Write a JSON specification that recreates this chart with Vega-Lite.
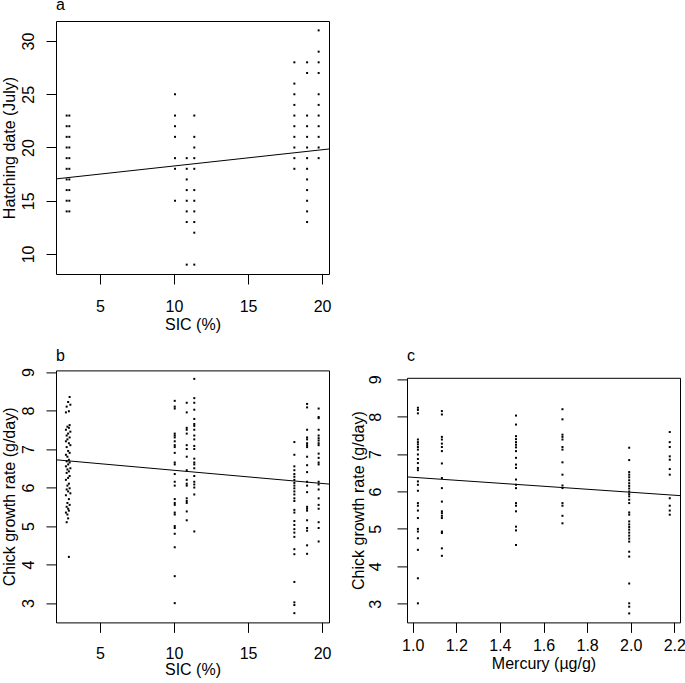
{
  "$schema": "https://vega.github.io/schema/vega-lite/v6.json",
  "background": "white",
  "padding": {"left": 0, "top": -4, "right": 0, "bottom": 0},
  "config": {
    "view": {"stroke": "black", "strokeWidth": 1},
    "axis": {"domain": false, "grid": false, "ticks": true, "tickColor": "black", "tickSize": 10, "tickWidth": 1,
             "domainColor": "black", "domainWidth": 1,
             "labelFont": "Liberation Sans", "labelFontSize": 16, "labelColor": "black",
             "titleFont": "Liberation Sans", "titleFontSize": 16, "titleFontWeight": "normal", "titleColor": "black"},
    "title": {"font": "Liberation Sans", "fontSize": 16, "fontWeight": "normal", "color": "black", "anchor": "start", "frame": "group", "baseline": "alphabetic"}
  },
  "datasets": {
    "a": [
      {"sic": 2.75, "hatch": 23}, {"sic": 2.75, "hatch": 22}, {"sic": 2.75, "hatch": 21}, {"sic": 2.75, "hatch": 20}, {"sic": 2.75, "hatch": 19},
      {"sic": 2.75, "hatch": 18}, {"sic": 2.75, "hatch": 17}, {"sic": 2.75, "hatch": 16}, {"sic": 2.75, "hatch": 15}, {"sic": 2.75, "hatch": 14},
      {"sic": 2.93, "hatch": 23}, {"sic": 2.93, "hatch": 22}, {"sic": 2.93, "hatch": 21}, {"sic": 2.93, "hatch": 20}, {"sic": 2.93, "hatch": 19},
      {"sic": 2.93, "hatch": 18}, {"sic": 2.93, "hatch": 17}, {"sic": 2.93, "hatch": 16}, {"sic": 2.93, "hatch": 15}, {"sic": 2.93, "hatch": 14},
      {"sic": 10.07, "hatch": 25}, {"sic": 10.07, "hatch": 23}, {"sic": 10.07, "hatch": 22}, {"sic": 10.07, "hatch": 21}, {"sic": 10.07, "hatch": 19},
      {"sic": 10.07, "hatch": 18}, {"sic": 10.07, "hatch": 15},
      {"sic": 10.86, "hatch": 19}, {"sic": 10.86, "hatch": 18}, {"sic": 10.86, "hatch": 17}, {"sic": 10.86, "hatch": 16}, {"sic": 10.86, "hatch": 15},
      {"sic": 10.86, "hatch": 14}, {"sic": 10.86, "hatch": 13}, {"sic": 10.86, "hatch": 9},
      {"sic": 11.37, "hatch": 23}, {"sic": 11.37, "hatch": 21}, {"sic": 11.37, "hatch": 20}, {"sic": 11.37, "hatch": 19}, {"sic": 11.37, "hatch": 18},
      {"sic": 11.37, "hatch": 16}, {"sic": 11.37, "hatch": 15}, {"sic": 11.37, "hatch": 14}, {"sic": 11.37, "hatch": 13}, {"sic": 11.37, "hatch": 12},
      {"sic": 11.37, "hatch": 9},
      {"sic": 18.13, "hatch": 28}, {"sic": 18.13, "hatch": 26}, {"sic": 18.13, "hatch": 25}, {"sic": 18.13, "hatch": 24}, {"sic": 18.13, "hatch": 23},
      {"sic": 18.13, "hatch": 22}, {"sic": 18.13, "hatch": 21}, {"sic": 18.13, "hatch": 20}, {"sic": 18.13, "hatch": 19}, {"sic": 18.13, "hatch": 18},
      {"sic": 18.99, "hatch": 28}, {"sic": 18.99, "hatch": 27}, {"sic": 18.99, "hatch": 23}, {"sic": 18.99, "hatch": 22}, {"sic": 18.99, "hatch": 21},
      {"sic": 18.99, "hatch": 20}, {"sic": 18.99, "hatch": 19}, {"sic": 18.99, "hatch": 18}, {"sic": 18.99, "hatch": 17}, {"sic": 18.99, "hatch": 16},
      {"sic": 18.99, "hatch": 15}, {"sic": 18.99, "hatch": 14}, {"sic": 18.99, "hatch": 13},
      {"sic": 19.77, "hatch": 31}, {"sic": 19.77, "hatch": 29}, {"sic": 19.77, "hatch": 28}, {"sic": 19.77, "hatch": 27}, {"sic": 19.77, "hatch": 25},
      {"sic": 19.77, "hatch": 24}, {"sic": 19.77, "hatch": 23}, {"sic": 19.77, "hatch": 22}, {"sic": 19.77, "hatch": 21}, {"sic": 19.77, "hatch": 20},
      {"sic": 19.77, "hatch": 19}
    ],
    "aline": [{"sic": 2.03, "hatch": 17.05}, {"sic": 20.47, "hatch": 19.86}],
    "b": [
      {"sic": 2.95, "growth": 8.35}, {"sic": 2.85, "growth": 8.22}, {"sic": 3.0, "growth": 8.15}, {"sic": 2.75, "growth": 8.1}, {"sic": 2.9, "growth": 7.98},
      {"sic": 2.7, "growth": 7.95}, {"sic": 2.95, "growth": 7.62}, {"sic": 2.8, "growth": 7.58}, {"sic": 2.9, "growth": 7.55}, {"sic": 2.7, "growth": 7.5},
      {"sic": 3.0, "growth": 7.45}, {"sic": 2.85, "growth": 7.4}, {"sic": 2.75, "growth": 7.35}, {"sic": 2.95, "growth": 7.3}, {"sic": 2.8, "growth": 7.25},
      {"sic": 2.7, "growth": 7.2}, {"sic": 2.9, "growth": 7.15}, {"sic": 3.0, "growth": 7.1}, {"sic": 2.75, "growth": 7.05}, {"sic": 2.85, "growth": 6.95},
      {"sic": 2.95, "growth": 6.9}, {"sic": 2.7, "growth": 6.85}, {"sic": 2.8, "growth": 6.8}, {"sic": 2.9, "growth": 6.72}, {"sic": 2.75, "growth": 6.68},
      {"sic": 2.95, "growth": 6.65}, {"sic": 2.85, "growth": 6.6}, {"sic": 2.7, "growth": 6.55}, {"sic": 3.0, "growth": 6.5}, {"sic": 2.8, "growth": 6.47},
      {"sic": 2.9, "growth": 6.42}, {"sic": 2.75, "growth": 6.38}, {"sic": 2.95, "growth": 6.3}, {"sic": 2.85, "growth": 6.25}, {"sic": 2.7, "growth": 6.2},
      {"sic": 2.9, "growth": 6.1}, {"sic": 2.8, "growth": 6.05}, {"sic": 2.95, "growth": 5.98}, {"sic": 2.75, "growth": 5.95}, {"sic": 2.85, "growth": 5.9},
      {"sic": 3.0, "growth": 5.85}, {"sic": 2.7, "growth": 5.8}, {"sic": 2.9, "growth": 5.7}, {"sic": 2.8, "growth": 5.6}, {"sic": 2.95, "growth": 5.55},
      {"sic": 2.75, "growth": 5.5}, {"sic": 2.85, "growth": 5.45}, {"sic": 2.9, "growth": 5.4}, {"sic": 2.7, "growth": 5.35}, {"sic": 2.8, "growth": 5.3},
      {"sic": 2.85, "growth": 5.2}, {"sic": 2.75, "growth": 5.1}, {"sic": 2.9, "growth": 4.2},
      {"sic": 10.05, "growth": 8.25}, {"sic": 10.05, "growth": 8.1}, {"sic": 10.05, "growth": 8.05}, {"sic": 10.05, "growth": 7.4}, {"sic": 10.05, "growth": 7.35},
      {"sic": 10.05, "growth": 7.3}, {"sic": 10.05, "growth": 7.2}, {"sic": 10.05, "growth": 7.1}, {"sic": 10.05, "growth": 7.05}, {"sic": 10.05, "growth": 6.9},
      {"sic": 10.05, "growth": 6.65}, {"sic": 10.05, "growth": 6.6}, {"sic": 10.05, "growth": 6.35}, {"sic": 10.05, "growth": 6.15}, {"sic": 10.05, "growth": 6.05},
      {"sic": 10.05, "growth": 5.7}, {"sic": 10.05, "growth": 5.6}, {"sic": 10.05, "growth": 5.55}, {"sic": 10.05, "growth": 5.35}, {"sic": 10.05, "growth": 5.3},
      {"sic": 10.05, "growth": 5.0}, {"sic": 10.05, "growth": 4.95}, {"sic": 10.05, "growth": 4.8}, {"sic": 10.05, "growth": 4.45}, {"sic": 10.05, "growth": 3.7},
      {"sic": 10.05, "growth": 3.0},
      {"sic": 10.86, "growth": 8.2}, {"sic": 10.86, "growth": 7.95}, {"sic": 10.86, "growth": 7.55}, {"sic": 10.86, "growth": 7.5}, {"sic": 10.86, "growth": 7.4},
      {"sic": 10.86, "growth": 7.1}, {"sic": 10.86, "growth": 7.0}, {"sic": 10.86, "growth": 6.8}, {"sic": 10.86, "growth": 6.45}, {"sic": 10.86, "growth": 6.2},
      {"sic": 10.86, "growth": 6.1}, {"sic": 10.86, "growth": 6.05}, {"sic": 10.86, "growth": 5.72}, {"sic": 10.86, "growth": 5.65}, {"sic": 10.86, "growth": 5.6},
      {"sic": 10.86, "growth": 5.38}, {"sic": 10.86, "growth": 5.15},
      {"sic": 11.37, "growth": 8.82}, {"sic": 11.37, "growth": 8.32}, {"sic": 11.37, "growth": 8.2}, {"sic": 11.37, "growth": 8.02}, {"sic": 11.37, "growth": 7.78},
      {"sic": 11.37, "growth": 7.65}, {"sic": 11.37, "growth": 7.6}, {"sic": 11.37, "growth": 7.5}, {"sic": 11.37, "growth": 7.35}, {"sic": 11.37, "growth": 7.25},
      {"sic": 11.37, "growth": 7.08}, {"sic": 11.37, "growth": 7.0}, {"sic": 11.37, "growth": 6.75}, {"sic": 11.37, "growth": 6.65}, {"sic": 11.37, "growth": 6.6},
      {"sic": 11.37, "growth": 6.5}, {"sic": 11.37, "growth": 6.3}, {"sic": 11.37, "growth": 6.15}, {"sic": 11.37, "growth": 6.08}, {"sic": 11.37, "growth": 6.0},
      {"sic": 11.37, "growth": 5.82}, {"sic": 11.37, "growth": 4.86},
      {"sic": 18.13, "growth": 7.18}, {"sic": 18.13, "growth": 6.85}, {"sic": 18.13, "growth": 6.55}, {"sic": 18.13, "growth": 6.45}, {"sic": 18.13, "growth": 6.35},
      {"sic": 18.13, "growth": 6.28}, {"sic": 18.13, "growth": 6.2}, {"sic": 18.13, "growth": 6.12}, {"sic": 18.13, "growth": 6.05}, {"sic": 18.13, "growth": 5.98},
      {"sic": 18.13, "growth": 5.9}, {"sic": 18.13, "growth": 5.82}, {"sic": 18.13, "growth": 5.72}, {"sic": 18.13, "growth": 5.65}, {"sic": 18.13, "growth": 5.42},
      {"sic": 18.13, "growth": 5.35}, {"sic": 18.13, "growth": 5.13}, {"sic": 18.13, "growth": 5.03}, {"sic": 18.13, "growth": 4.92}, {"sic": 18.13, "growth": 4.83},
      {"sic": 18.13, "growth": 4.72}, {"sic": 18.13, "growth": 4.4}, {"sic": 18.13, "growth": 4.27}, {"sic": 18.13, "growth": 3.55}, {"sic": 18.13, "growth": 3.02},
      {"sic": 18.13, "growth": 2.95}, {"sic": 18.13, "growth": 2.74},
      {"sic": 18.99, "growth": 8.17}, {"sic": 18.99, "growth": 8.08}, {"sic": 18.99, "growth": 7.5}, {"sic": 18.99, "growth": 7.3}, {"sic": 18.99, "growth": 7.25},
      {"sic": 18.99, "growth": 7.15}, {"sic": 18.99, "growth": 7.1}, {"sic": 18.99, "growth": 7.05}, {"sic": 18.99, "growth": 6.8}, {"sic": 18.99, "growth": 6.58},
      {"sic": 18.99, "growth": 6.4}, {"sic": 18.99, "growth": 6.15}, {"sic": 18.99, "growth": 6.05}, {"sic": 18.99, "growth": 5.88}, {"sic": 18.99, "growth": 5.5},
      {"sic": 18.99, "growth": 5.45}, {"sic": 18.99, "growth": 5.4}, {"sic": 18.99, "growth": 5.15}, {"sic": 18.99, "growth": 4.95}, {"sic": 18.99, "growth": 4.88},
      {"sic": 18.99, "growth": 4.5}, {"sic": 18.99, "growth": 4.28},
      {"sic": 19.77, "growth": 8.05}, {"sic": 19.77, "growth": 7.83}, {"sic": 19.77, "growth": 7.8}, {"sic": 19.77, "growth": 7.5}, {"sic": 19.77, "growth": 7.35},
      {"sic": 19.77, "growth": 7.28}, {"sic": 19.77, "growth": 7.22}, {"sic": 19.77, "growth": 7.15}, {"sic": 19.77, "growth": 7.1}, {"sic": 19.77, "growth": 6.88},
      {"sic": 19.77, "growth": 6.77}, {"sic": 19.77, "growth": 6.65}, {"sic": 19.77, "growth": 6.6}, {"sic": 19.77, "growth": 6.15}, {"sic": 19.77, "growth": 6.08},
      {"sic": 19.77, "growth": 5.95}, {"sic": 19.77, "growth": 5.72}, {"sic": 19.77, "growth": 5.55}, {"sic": 19.77, "growth": 5.45}, {"sic": 19.77, "growth": 5.1},
      {"sic": 19.77, "growth": 4.95}, {"sic": 19.77, "growth": 4.6}
    ],
    "bline": [{"sic": 2.03, "growth": 6.72}, {"sic": 20.47, "growth": 6.09}],
    "c": [
      {"mercury": 1.024, "growth": 8.24}, {"mercury": 1.024, "growth": 8.18}, {"mercury": 1.024, "growth": 8.09}, {"mercury": 1.024, "growth": 7.39}, {"mercury": 1.024, "growth": 7.32},
      {"mercury": 1.024, "growth": 7.26}, {"mercury": 1.024, "growth": 7.19}, {"mercury": 1.024, "growth": 7.12}, {"mercury": 1.024, "growth": 6.99}, {"mercury": 1.024, "growth": 6.87},
      {"mercury": 1.024, "growth": 6.76}, {"mercury": 1.024, "growth": 6.63}, {"mercury": 1.024, "growth": 6.57}, {"mercury": 1.024, "growth": 6.27}, {"mercury": 1.024, "growth": 6.18},
      {"mercury": 1.024, "growth": 6.02}, {"mercury": 1.024, "growth": 5.69}, {"mercury": 1.024, "growth": 5.62}, {"mercury": 1.024, "growth": 5.49}, {"mercury": 1.024, "growth": 5.29},
      {"mercury": 1.024, "growth": 5.0}, {"mercury": 1.024, "growth": 4.93}, {"mercury": 1.024, "growth": 4.75}, {"mercury": 1.024, "growth": 4.44}, {"mercury": 1.024, "growth": 3.68},
      {"mercury": 1.024, "growth": 3.01},
      {"mercury": 1.134, "growth": 8.15}, {"mercury": 1.134, "growth": 8.06}, {"mercury": 1.134, "growth": 7.46}, {"mercury": 1.134, "growth": 7.39}, {"mercury": 1.134, "growth": 7.28},
      {"mercury": 1.134, "growth": 7.19}, {"mercury": 1.134, "growth": 7.08}, {"mercury": 1.134, "growth": 6.75}, {"mercury": 1.134, "growth": 6.36}, {"mercury": 1.134, "growth": 6.09},
      {"mercury": 1.134, "growth": 5.73}, {"mercury": 1.134, "growth": 5.47}, {"mercury": 1.134, "growth": 5.42}, {"mercury": 1.134, "growth": 5.35}, {"mercury": 1.134, "growth": 5.29},
      {"mercury": 1.134, "growth": 4.93}, {"mercury": 1.134, "growth": 4.89}, {"mercury": 1.134, "growth": 4.48}, {"mercury": 1.134, "growth": 4.28},
      {"mercury": 1.474, "growth": 8.03}, {"mercury": 1.474, "growth": 7.79}, {"mercury": 1.474, "growth": 7.48}, {"mercury": 1.474, "growth": 7.4}, {"mercury": 1.474, "growth": 7.32},
      {"mercury": 1.474, "growth": 7.25}, {"mercury": 1.474, "growth": 7.18}, {"mercury": 1.474, "growth": 7.08}, {"mercury": 1.474, "growth": 6.9}, {"mercury": 1.474, "growth": 6.72},
      {"mercury": 1.474, "growth": 6.63}, {"mercury": 1.474, "growth": 6.32}, {"mercury": 1.474, "growth": 6.18}, {"mercury": 1.474, "growth": 6.09}, {"mercury": 1.474, "growth": 5.69},
      {"mercury": 1.474, "growth": 5.62}, {"mercury": 1.474, "growth": 5.47}, {"mercury": 1.474, "growth": 5.06}, {"mercury": 1.474, "growth": 4.96}, {"mercury": 1.474, "growth": 4.57},
      {"mercury": 1.687, "growth": 8.2}, {"mercury": 1.687, "growth": 7.93}, {"mercury": 1.687, "growth": 7.52}, {"mercury": 1.687, "growth": 7.46}, {"mercury": 1.687, "growth": 7.39},
      {"mercury": 1.687, "growth": 7.19}, {"mercury": 1.687, "growth": 7.12}, {"mercury": 1.687, "growth": 6.78}, {"mercury": 1.687, "growth": 6.45}, {"mercury": 1.687, "growth": 6.16},
      {"mercury": 1.687, "growth": 6.09}, {"mercury": 1.687, "growth": 5.69}, {"mercury": 1.687, "growth": 5.62}, {"mercury": 1.687, "growth": 5.35}, {"mercury": 1.687, "growth": 5.15},
      {"mercury": 1.993, "growth": 7.17}, {"mercury": 1.993, "growth": 6.84}, {"mercury": 1.993, "growth": 6.52}, {"mercury": 1.993, "growth": 6.45}, {"mercury": 1.993, "growth": 6.38},
      {"mercury": 1.993, "growth": 6.3}, {"mercury": 1.993, "growth": 6.22}, {"mercury": 1.993, "growth": 6.15}, {"mercury": 1.993, "growth": 6.08}, {"mercury": 1.993, "growth": 6.0},
      {"mercury": 1.993, "growth": 5.93}, {"mercury": 1.993, "growth": 5.87}, {"mercury": 1.993, "growth": 5.78}, {"mercury": 1.993, "growth": 5.69}, {"mercury": 1.993, "growth": 5.44},
      {"mercury": 1.993, "growth": 5.38}, {"mercury": 1.993, "growth": 5.2}, {"mercury": 1.993, "growth": 5.12}, {"mercury": 1.993, "growth": 5.05}, {"mercury": 1.993, "growth": 4.98},
      {"mercury": 1.993, "growth": 4.9}, {"mercury": 1.993, "growth": 4.82}, {"mercury": 1.993, "growth": 4.74}, {"mercury": 1.993, "growth": 4.66}, {"mercury": 1.993, "growth": 4.39},
      {"mercury": 1.993, "growth": 4.26}, {"mercury": 1.993, "growth": 3.54}, {"mercury": 1.993, "growth": 3.01}, {"mercury": 1.993, "growth": 2.92}, {"mercury": 1.993, "growth": 2.74},
      {"mercury": 2.179, "growth": 7.59}, {"mercury": 2.179, "growth": 7.32}, {"mercury": 2.179, "growth": 7.19}, {"mercury": 2.179, "growth": 6.94}, {"mercury": 2.179, "growth": 6.85},
      {"mercury": 2.179, "growth": 6.6}, {"mercury": 2.179, "growth": 6.45}, {"mercury": 2.179, "growth": 5.82}, {"mercury": 2.179, "growth": 5.62}, {"mercury": 2.179, "growth": 5.49},
      {"mercury": 2.179, "growth": 5.38}
    ],
    "cline": [{"mercury": 0.974, "growth": 6.39}, {"mercury": 2.226, "growth": 5.89}]
  },
  "spacing": 14.4,
  "vconcat": [
    {
      "title": {"text": "a", "offset": 8.5},
      "width": 273,
      "height": 253,
      "layer": [
        {
          "data": {"name": "a"},
          "mark": {"type": "point", "shape": "square", "filled": true, "size": 4, "color": "black", "opacity": 1},
          "encoding": {
            "x": {"field": "sic", "type": "quantitative", "title": "SIC (%)",
                  "scale": {"domain": [2.03, 20.47], "nice": false, "zero": false},
                  "axis": {"values": [5, 10, 15, 20], "labelBaseline": "alphabetic", "labelPadding": 27, "titleBaseline": "alphabetic", "titleY": 55}},
            "y": {"field": "hatch", "type": "quantitative", "title": "Hatching date (July)",
                  "scale": {"domain": [8.12, 31.88], "nice": false, "zero": false},
                  "axis": {"values": [10, 15, 20, 25, 30], "labelAngle": -90, "labelAlign": "center", "labelBaseline": "alphabetic", "labelPadding": 13,
                           "titleAngle": -90, "titleAlign": "center", "titleBaseline": "alphabetic", "titleX": -42, "titleY": 126.5}}
          }
        },
        {
          "data": {"name": "aline"},
          "mark": {"type": "line", "color": "black", "strokeWidth": 1},
          "encoding": {"x": {"field": "sic", "type": "quantitative"}, "y": {"field": "hatch", "type": "quantitative"}}
        }
      ]
    },
    {
      "spacing": 17,
      "hconcat": [
        {
          "title": {"text": "b", "offset": 3.2},
          "width": 273,
          "height": 252,
          "layer": [
            {
              "data": {"name": "b"},
              "mark": {"type": "point", "shape": "square", "filled": true, "size": 4, "color": "black", "opacity": 1},
              "encoding": {
                "x": {"field": "sic", "type": "quantitative", "title": "SIC (%)",
                      "scale": {"domain": [2.03, 20.47], "nice": false, "zero": false},
                      "axis": {"values": [5, 10, 15, 20], "labelBaseline": "alphabetic", "labelPadding": 26, "titleBaseline": "alphabetic", "titleY": 52.5}},
                "y": {"field": "growth", "type": "quantitative", "title": "Chick growth rate (g/day)",
                      "scale": {"domain": [2.5, 9.04], "nice": false, "zero": false},
                      "axis": {"values": [3, 4, 5, 6, 7, 8, 9], "labelAngle": -90, "labelAlign": "center", "labelBaseline": "alphabetic", "labelPadding": 13,
                               "titleAngle": -90, "titleAlign": "center", "titleBaseline": "alphabetic", "titleX": -42, "titleY": 126}}
              }
            },
            {
              "data": {"name": "bline"},
              "mark": {"type": "line", "color": "black", "strokeWidth": 1},
              "encoding": {"x": {"field": "sic", "type": "quantitative"}, "y": {"field": "growth", "type": "quantitative"}}
            }
          ]
        },
        {
          "title": {"text": "c", "offset": 6.2},
          "width": 273,
          "height": 252,
          "view": {"stroke": null},
          "resolve": {"axis": {"x": "independent", "y": "independent"}},
          "layer": [
            {
              "data": {"name": "c"},
              "mark": {"type": "point", "shape": "square", "filled": true, "size": 4, "color": "black", "opacity": 1},
              "encoding": {
                "x": {"field": "mercury", "type": "quantitative", "title": "Mercury (µg/g)",
                      "scale": {"domain": [0.974, 2.226], "nice": false, "zero": false},
                      "axis": {"values": [1.0, 1.2, 1.4, 1.6, 1.8, 2.0, 2.2], "format": ".1f", "domain": true, "labelBaseline": "alphabetic", "labelPadding": 18, "titleBaseline": "alphabetic", "titleY": 46}},
                "y": {"field": "growth", "type": "quantitative", "title": "Chick growth rate (g/day)",
                      "scale": {"domain": [2.5, 9.04], "nice": false, "zero": false, "range": [252, 7.4]},
                      "axis": {"values": [3, 4, 5, 6, 7, 8, 9], "domain": true, "labelAngle": -90, "labelAlign": "center", "labelBaseline": "alphabetic", "labelPadding": 17,
                               "titleAngle": -90, "titleAlign": "center", "titleBaseline": "alphabetic", "titleX": -44, "titleY": 129.7}}
              }
            },
            {
              "data": {"name": "cline"},
              "mark": {"type": "line", "color": "black", "strokeWidth": 1},
              "encoding": {
                "x": {"field": "mercury", "type": "quantitative",
                      "axis": {"orient": "top", "offset": -7.4, "domain": true, "ticks": false, "labels": false, "title": null}},
                "y": {"field": "growth", "type": "quantitative",
                      "axis": {"orient": "right", "domain": true, "ticks": false, "labels": false, "title": null}}
              }
            }
          ]
        }
      ]
    }
  ]
}
